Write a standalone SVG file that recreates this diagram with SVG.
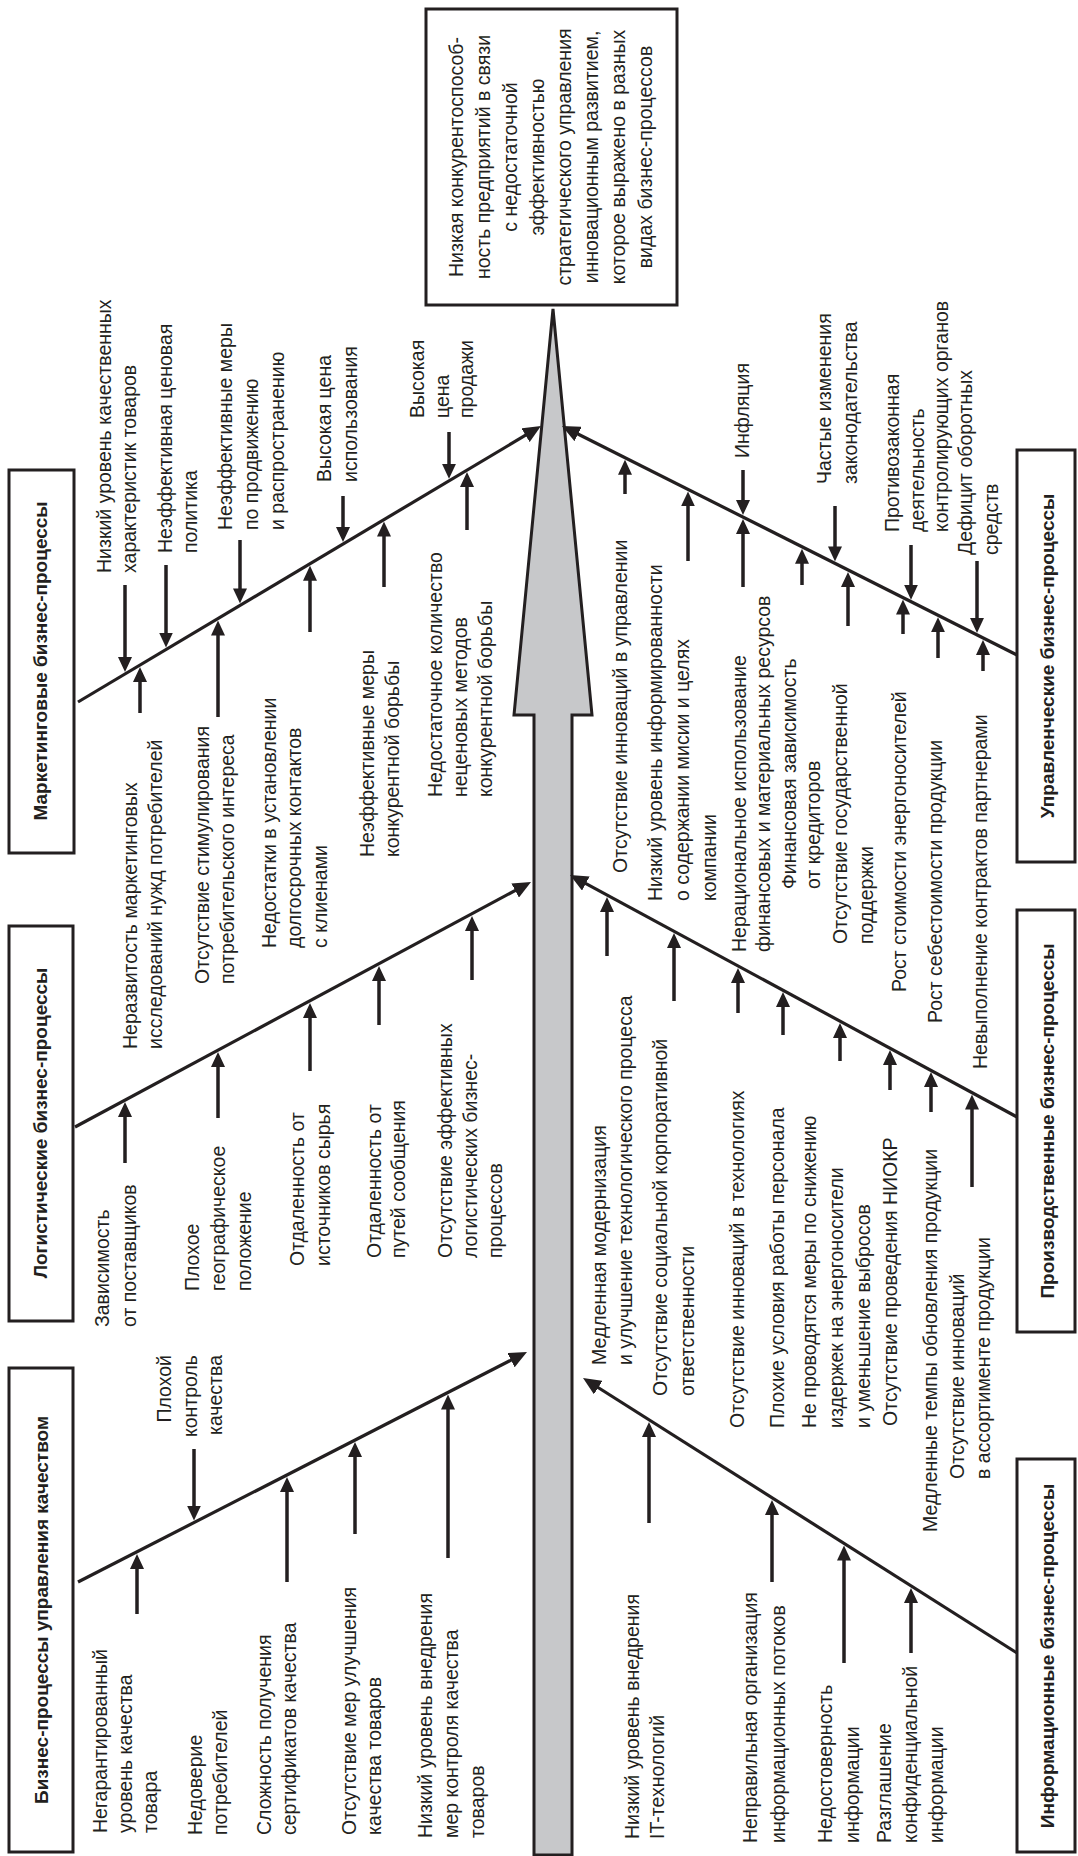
<svg xmlns="http://www.w3.org/2000/svg" width="1078" height="1856" viewBox="0 0 1078 1856">
<style>
.t{font-family:"Liberation Sans",Arial,sans-serif;font-size:19.5px;fill:#231f20}
.b{font-weight:bold;font-size:19px;text-anchor:middle}
.m{text-anchor:middle}
.e{text-anchor:end}
.box{fill:#fff;stroke:#231f20;stroke-width:3}
.bone{stroke:#231f20;stroke-width:3.2;fill:none;marker-end:url(#bh)}
.ar{stroke:#231f20;stroke-width:3.5;fill:none;marker-end:url(#ah)}
</style>
<defs>
<marker id="ah" viewBox="0 0 15 14" markerWidth="15" markerHeight="14" refX="3" refY="7" orient="auto" markerUnits="userSpaceOnUse"><path d="M0,0 L15,7 L0,14 z" fill="#231f20"/></marker>
<marker id="bh" viewBox="0 0 18 16" markerWidth="18" markerHeight="16" refX="3" refY="8" orient="auto" markerUnits="userSpaceOnUse"><path d="M0,0 L18,8 L0,16 z" fill="#231f20"/></marker>
</defs>
<rect width="1078" height="1856" fill="#fff"/>

<g id="spine">
<polygon points="534,1855 534,715 514,715 553,309 592,715 572,715 572,1855" fill="#c7c8ca" stroke="#231f20" stroke-width="3" stroke-linejoin="miter"/>
</g>

<g id="head">
<rect class="box" x="426" y="9" width="251" height="296"/>
<text class="t m" transform="translate(463,157) rotate(-90)"><tspan x="0" y="0">Низкая конкурентоспособ-</tspan><tspan x="0" y="27">ность предприятий в связи</tspan><tspan x="0" y="54">с недостаточной</tspan><tspan x="0" y="81">эффективностью</tspan><tspan x="0" y="108">стратегического управления</tspan><tspan x="0" y="135">инновационным развитием,</tspan><tspan x="0" y="162">которое выражено в разных</tspan><tspan x="0" y="189">видах бизнес-процессов</tspan></text>
</g>

<g id="cat-marketing">
<rect class="box" x="9" y="470" width="65" height="383"/>
<text class="t b" transform="translate(47,661) rotate(-90)">Маркетинговые бизнес-процессы</text>
</g>
<g id="cat-logistics">
<rect class="box" x="9" y="926" width="64" height="395"/>
<text class="t b" transform="translate(47,1123) rotate(-90)">Логистические бизнес-процессы</text>
</g>
<g id="cat-quality">
<rect class="box" x="9" y="1368" width="64" height="484"/>
<text class="t b" transform="translate(48,1610) rotate(-90)">Бизнес-процессы управления качеством</text>
</g>
<g id="cat-management">
<rect class="box" x="1017" y="450" width="58" height="412"/>
<text class="t b" transform="translate(1054,656) rotate(-90)">Управленческие бизнес-процессы</text>
</g>
<g id="cat-production">
<rect class="box" x="1017" y="910" width="58" height="422"/>
<text class="t b" transform="translate(1054,1121) rotate(-90)">Производственные бизнес-процессы</text>
</g>
<g id="cat-information">
<rect class="box" x="1017" y="1459" width="58" height="393"/>
<text class="t b" transform="translate(1054,1656) rotate(-90)">Информационные бизнес-процессы</text>
</g>

<g id="connectors">
<path class="bone" d="M78,702 L528.1,433.7"/>
<path class="bone" d="M75,1127 L517.8,889.1"/>
<path class="bone" d="M78,1582 L513.65,1358.8"/>
<path class="bone" d="M1017,655 L575.4,432.7"/>
<path class="bone" d="M1017,1117 L583.2,882.1"/>
<path class="bone" d="M1017,1653 L595.7,1386"/>

<path class="ar" d="M125,585 V660"/>
<path class="ar" d="M166,565 V635.5"/>
<path class="ar" d="M240,540 V591.4"/>
<path class="ar" d="M343,496 V530"/>
<path class="ar" d="M449,432 V466.8"/>
<path class="ar" d="M140,713 V679"/>
<path class="ar" d="M218,717 V632.5"/>
<path class="ar" d="M310,632 V577.7"/>
<path class="ar" d="M384,587 V533.6"/>
<path class="ar" d="M467,530 V484"/>

<path class="ar" d="M125,1163 V1114"/>
<path class="ar" d="M218,1118 V1064"/>
<path class="ar" d="M310,1071 V1015"/>
<path class="ar" d="M379,1025 V978"/>
<path class="ar" d="M472,980 V928"/>

<path class="ar" d="M137,1614 V1566"/>
<path class="ar" d="M194,1449 V1508.6"/>
<path class="ar" d="M287,1582 V1489"/>
<path class="ar" d="M355,1534 V1454"/>
<path class="ar" d="M448,1558 V1406.5"/>

<path class="ar" d="M625,494 V471.7"/>
<path class="ar" d="M688,561 V503.4"/>
<path class="ar" d="M743,470 V503"/>
<path class="ar" d="M743,587 V531"/>
<path class="ar" d="M802,585 V560.8"/>
<path class="ar" d="M835,506 V549.4"/>
<path class="ar" d="M848,626 V584"/>
<path class="ar" d="M911,545 V587.7"/>
<path class="ar" d="M903,634 V611.6"/>
<path class="ar" d="M938,658 V629.2"/>
<path class="ar" d="M977,561 V620.9"/>
<path class="ar" d="M983,671 V651.9"/>

<path class="ar" d="M607,956 V909"/>
<path class="ar" d="M674,1001 V945"/>
<path class="ar" d="M738,1013 V980"/>
<path class="ar" d="M783,1035 V1004"/>
<path class="ar" d="M840,1061 V1035"/>
<path class="ar" d="M890,1090 V1062"/>
<path class="ar" d="M931,1112 V1084"/>
<path class="ar" d="M972,1187 V1106.6"/>

<path class="ar" d="M649,1523 V1434"/>
<path class="ar" d="M772,1582 V1512"/>
<path class="ar" d="M844,1663 V1557.5"/>
<path class="ar" d="M911,1653 V1600"/>
</g>

<g id="causes-marketing">
<text class="t" transform="translate(111,573) rotate(-90)"><tspan x="0" y="0">Низкий уровень качественных</tspan><tspan x="0" y="25">характеристик товаров</tspan></text>
<text class="t" transform="translate(172,553) rotate(-90)"><tspan x="0" y="0">Неэффективная ценовая</tspan><tspan x="0" y="25">политика</tspan></text>
<text class="t" transform="translate(232,530) rotate(-90)"><tspan x="0" y="0">Неэффективные меры</tspan><tspan x="0" y="26">по продвижению</tspan><tspan x="0" y="52">и распространению</tspan></text>
<text class="t" transform="translate(331,482) rotate(-90)"><tspan x="0" y="0">Высокая цена</tspan><tspan x="0" y="26">использования</tspan></text>
<text class="t" transform="translate(424,418) rotate(-90)"><tspan x="0" y="0">Высокая</tspan><tspan x="0" y="25">цена</tspan><tspan x="0" y="49">продажи</tspan></text>
<text class="t" transform="translate(137,1049) rotate(-90)"><tspan x="0" y="0">Неразвитость маркетинговых</tspan><tspan x="0" y="25">исследований нужд потребителей</tspan></text>
<text class="t" transform="translate(209,984) rotate(-90)"><tspan x="0" y="0">Отсутствие стимулирования</tspan><tspan x="0" y="25">потребительского интереса</tspan></text>
<text class="t" transform="translate(276,948) rotate(-90)"><tspan x="0" y="0">Недостатки в установлении</tspan><tspan x="0" y="25">долгосрочных контактов</tspan><tspan x="0" y="51">с клиенами</tspan></text>
<text class="t" transform="translate(374,857) rotate(-90)"><tspan x="0" y="0">Неэффективные меры</tspan><tspan x="0" y="25">конкурентной борьбы</tspan></text>
<text class="t" transform="translate(442,797) rotate(-90)"><tspan x="0" y="0">Недостаточное количество</tspan><tspan x="0" y="25">неценовых методов</tspan><tspan x="0" y="50">конкурентной борьбы</tspan></text>
</g>

<g id="causes-logistics">
<text class="t" transform="translate(109,1327) rotate(-90)"><tspan x="0" y="0">Зависимость</tspan><tspan x="0" y="27">от поставщиков</tspan></text>
<text class="t" transform="translate(199,1291) rotate(-90)"><tspan x="0" y="0">Плохое</tspan><tspan x="0" y="26">географическое</tspan><tspan x="0" y="52">положение</tspan></text>
<text class="t" transform="translate(304,1266) rotate(-90)"><tspan x="0" y="0">Отдаленность от</tspan><tspan x="0" y="26">источников сырья</tspan></text>
<text class="t" transform="translate(381,1258) rotate(-90)"><tspan x="0" y="0">Отдаленность от</tspan><tspan x="0" y="24">путей сообщения</tspan></text>
<text class="t" transform="translate(452,1258) rotate(-90)"><tspan x="0" y="0">Отсутствие эффективных</tspan><tspan x="0" y="25">логистических бизнес-</tspan><tspan x="0" y="50">процессов</tspan></text>
</g>

<g id="causes-quality">
<text class="t" transform="translate(107,1833) rotate(-90)"><tspan x="0" y="0">Негарантированный</tspan><tspan x="0" y="25">уровень качества</tspan><tspan x="0" y="50">товара</tspan></text>
<text class="t" transform="translate(202,1835) rotate(-90)"><tspan x="0" y="0">Недоверие</tspan><tspan x="0" y="25">потребителей</tspan></text>
<text class="t" transform="translate(271,1835) rotate(-90)"><tspan x="0" y="0">Сложность получения</tspan><tspan x="0" y="25">сертификатов качества</tspan></text>
<text class="t" transform="translate(356,1835) rotate(-90)"><tspan x="0" y="0">Отсутствие мер улучшения</tspan><tspan x="0" y="25">качества товаров</tspan></text>
<text class="t" transform="translate(432,1838) rotate(-90)"><tspan x="0" y="0">Низкий уровень внедрения</tspan><tspan x="0" y="26">мер контроля качества</tspan><tspan x="0" y="52">товаров</tspan></text>
<text class="t e" transform="translate(171,1355) rotate(-90)"><tspan x="0" y="0">Плохой</tspan><tspan x="0" y="26">контроль</tspan><tspan x="0" y="51">качества</tspan></text>
</g>

<g id="causes-management">
<text class="t" transform="translate(749,458) rotate(-90)">Инфляция</text>
<text class="t" transform="translate(831,484) rotate(-90)"><tspan x="0" y="0">Частые изменения</tspan><tspan x="0" y="26">законодательства</tspan></text>
<text class="t" transform="translate(899,532) rotate(-90)"><tspan x="0" y="0">Противозаконная</tspan><tspan x="0" y="25">деятельность</tspan><tspan x="0" y="49">контролирующих органов</tspan></text>
<text class="t" transform="translate(972,555) rotate(-90)"><tspan x="0" y="0">Дефицит оборотных</tspan><tspan x="0" y="26">средств</tspan></text>
<text class="t" transform="translate(627,873) rotate(-90)">Отсутствие инноваций в управлении</text>
<text class="t" transform="translate(662,901) rotate(-90)"><tspan x="0" y="0">Низкий уровень информированности</tspan><tspan x="0" y="27">о содержании мисии и целях</tspan><tspan x="0" y="54">компании</tspan></text>
<text class="t" transform="translate(746,952) rotate(-90)"><tspan x="0" y="0">Нерациональное использование</tspan><tspan x="0" y="24">финансовых и материальных ресурсов</tspan></text>
<text class="t" transform="translate(796,889) rotate(-90)"><tspan x="0" y="0">Финансовая зависимость</tspan><tspan x="0" y="24">от кредиторов</tspan></text>
<text class="t" transform="translate(847,944) rotate(-90)"><tspan x="0" y="0">Отсутствие государственной</tspan><tspan x="0" y="26">поддержки</tspan></text>
<text class="t" transform="translate(906,992) rotate(-90)">Рост стоимости энергоносителей</text>
<text class="t" transform="translate(942,1023) rotate(-90)">Рост себестоимости продукции</text>
<text class="t" transform="translate(987,1069) rotate(-90)">Невыполнение контрактов партнерами</text>
</g>

<g id="causes-production">
<text class="t" transform="translate(606,1365) rotate(-90)"><tspan x="0" y="0">Медленная модернизация</tspan><tspan x="0" y="26">и улучшение технологического процесса</tspan></text>
<text class="t" transform="translate(667,1396) rotate(-90)"><tspan x="0" y="0">Отсутствие социальной корпоративной</tspan><tspan x="0" y="27">ответственности</tspan></text>
<text class="t" transform="translate(744,1428) rotate(-90)">Отсутствие инноваций в технологиях</text>
<text class="t" transform="translate(784,1428) rotate(-90)">Плохие условия работы персонала</text>
<text class="t" transform="translate(816,1428) rotate(-90)"><tspan x="0" y="0">Не проводятся меры по снижению</tspan><tspan x="0" y="27">издержек на энергоносители</tspan><tspan x="0" y="54">и уменьшение выбросов</tspan></text>
<text class="t" transform="translate(897,1426) rotate(-90)">Отсутствие проведения НИОКР</text>
<text class="t" transform="translate(937,1532) rotate(-90)">Медленные темпы обновления продукции</text>
<text class="t" transform="translate(964,1479) rotate(-90)"><tspan x="0" y="0">Отсутствие инноваций</tspan><tspan x="0" y="26">в ассортименте продукции</tspan></text>
</g>

<g id="causes-information">
<text class="t" transform="translate(639,1839) rotate(-90)"><tspan x="0" y="0">Низкий уровень внедрения</tspan><tspan x="0" y="25">IT-технологий</tspan></text>
<text class="t" transform="translate(757,1843) rotate(-90)"><tspan x="0" y="0">Неправильная организация</tspan><tspan x="0" y="28">информационных потоков</tspan></text>
<text class="t" transform="translate(832,1843) rotate(-90)"><tspan x="0" y="0">Недостоверность</tspan><tspan x="0" y="27">информации</tspan></text>
<text class="t" transform="translate(891,1843) rotate(-90)"><tspan x="0" y="0">Разглашение</tspan><tspan x="0" y="26">конфиденциальной</tspan><tspan x="0" y="52">информации</tspan></text>
</g>
</svg>
